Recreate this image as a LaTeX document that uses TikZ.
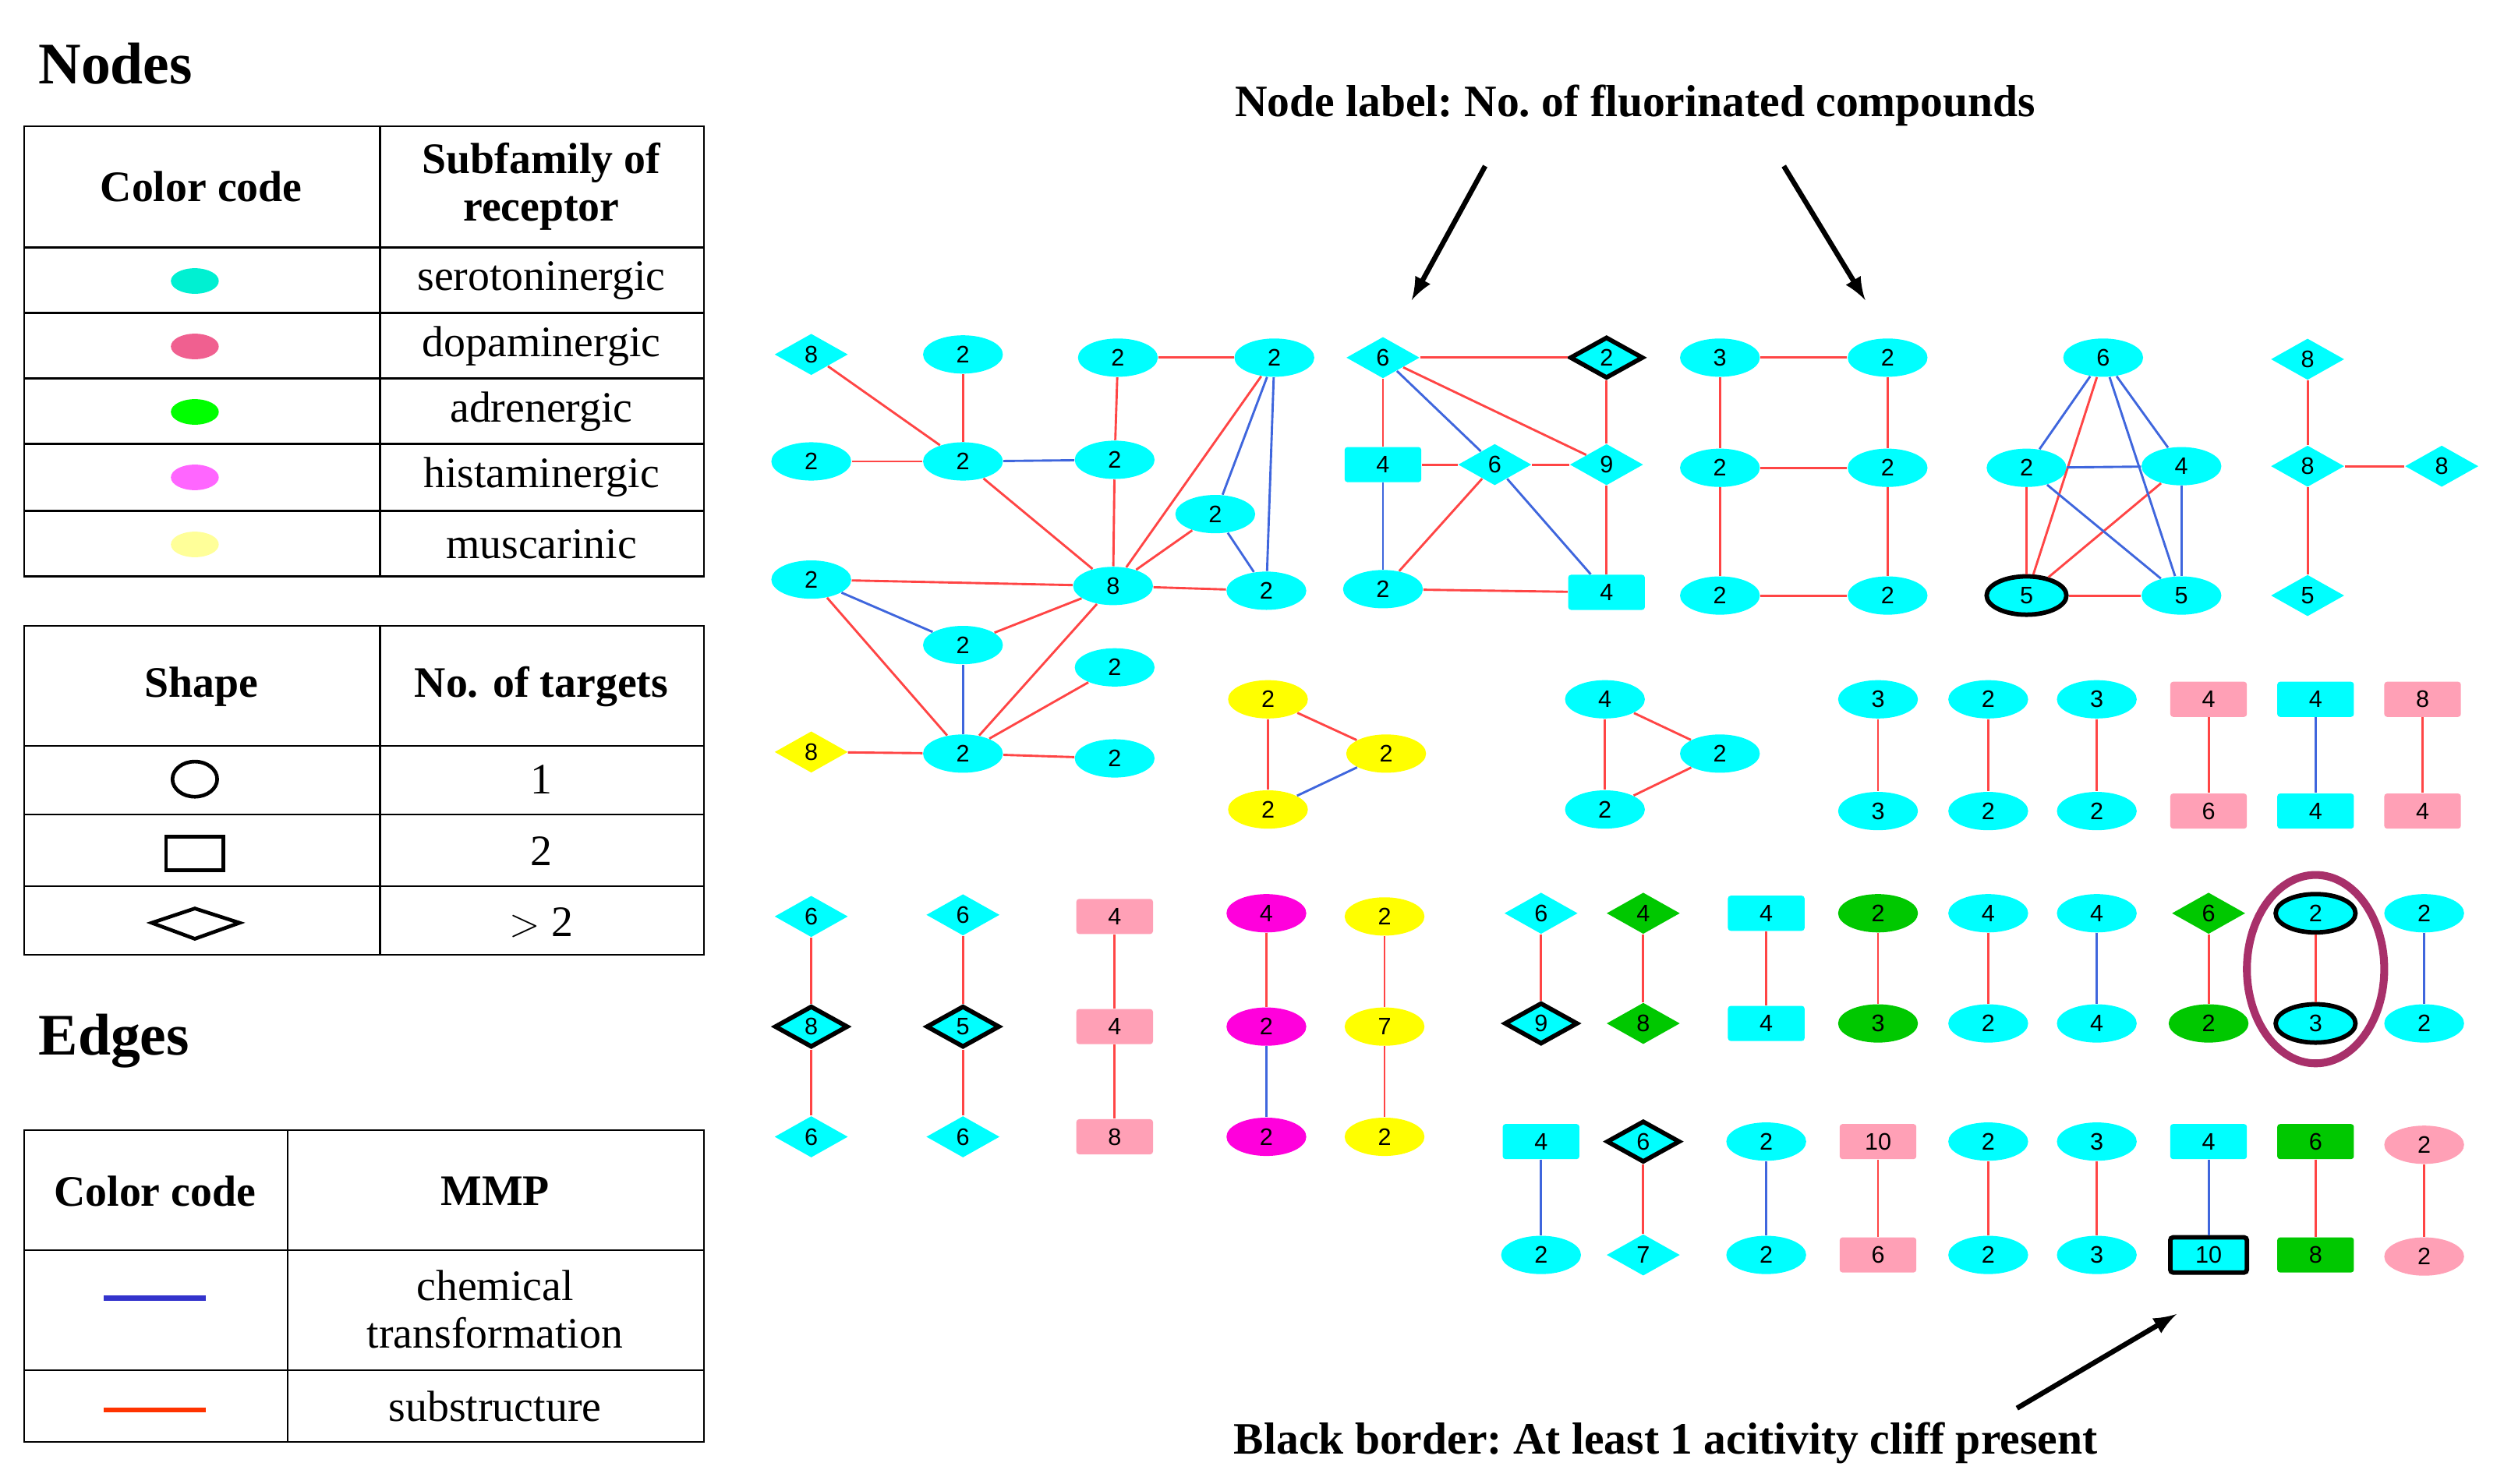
\documentclass[tikz,border=0pt]{standalone}
\usepackage{fontspec}
\setmainfont{Liberation Serif}
\newfontfamily\numfont{Liberation Sans}
\usetikzlibrary{arrows,shapes.geometric}

\definecolor{cyn}{HTML}{00FFFF}
\definecolor{pnk}{HTML}{FFA0B6}
\definecolor{grn}{HTML}{00C800}
\definecolor{mag}{HTML}{FF00DC}
\definecolor{yel}{HTML}{FFFF00}
\definecolor{redE}{HTML}{FF4545}
\definecolor{bluE}{HTML}{3F66DD}
\definecolor{ring}{HTML}{A8306A}

\tikzset{
  nd/.style={inner sep=0pt,font=\numfont\fontsize{8.5}{8.5}\selectfont},
  el/.style={nd,ellipse,minimum width=1.0cm,minimum height=0.48cm},
  bx/.style={nd,rectangle,rounded corners=1pt,minimum width=0.96cm,minimum height=0.44cm},
  di/.style={nd,diamond,minimum width=0.92cm,minimum height=0.52cm,aspect=1.8},
  cy/.style={fill=cyn},
  pk/.style={fill=pnk},
  gr/.style={fill=grn},
  mg/.style={fill=mag},
  yl/.style={fill=yel},
  cliff/.style={draw=black,line width=1.6pt},
  re/.style={draw=redE,line width=0.8pt},
  bl/.style={draw=bluE,line width=0.8pt},
  tb/.style={font=\fontsize{15.5}{17}\selectfont},
  tbh/.style={font=\bfseries\fontsize{15.5}{17}\selectfont,align=center},
  hd/.style={font=\bfseries\fontsize{21}{23}\selectfont,anchor=west},
  note/.style={font=\bfseries\frenchspacing\fontsize{16}{18}\selectfont}
}

\begin{document}
\begin{tikzpicture}[x=0.02cm,y=-0.02cm,>=latex]
\useasboundingbox (0,0) rectangle (1568,929);

% Legende Knoten
\node[hd] (hnodes) at (18,40) {Nodes};
\draw[line width=0.6pt] (15,79) rectangle (441,361);
\draw[line width=0.6pt] (238,79)--(238,361);
\foreach \y in {155,196,237,278,320} \draw[line width=0.6pt] (15,\y)--(441,\y);
\node[tbh] (h1) at (126,117) {Color code};
\node[tbh] (h2) at (339,117) {Subfamily of\\receptor};
\fill[fill={rgb,255:red,0;green,240;blue,210}] (122,176) ellipse (15 and 8);
\fill[fill={rgb,255:red,240;green,96;blue,144}] (122,217) ellipse (15 and 8);
\fill[fill={rgb,255:red,0;green,255;blue,0}] (122,258) ellipse (15 and 8);
\fill[fill={rgb,255:red,255;green,102;blue,255}] (122,299) ellipse (15 and 8);
\fill[fill={rgb,255:red,255;green,255;blue,153}] (122,341) ellipse (15 and 8);
\node[tb] (s1) at (339,176) {serotoninergic};
\node[tb] (s2) at (339,217) {dopaminergic};
\node[tb] (s3) at (339,258) {adrenergic};
\node[tb] (s4) at (339,299) {histaminergic};
\node[tb] (s5) at (339,341) {muscarinic};

\draw[line width=0.6pt] (15,392) rectangle (441,598);
\draw[line width=0.6pt] (238,392)--(238,598);
\foreach \y in {467,510,555} \draw[line width=0.6pt] (15,\y)--(441,\y);
\node[tbh] (h3) at (126,430) {Shape};
\node[tbh] (h4) at (339,430) {No. of targets};
\draw[line width=1.3pt] (122,488) ellipse (14 and 11);
\draw[line width=1.3pt] (104,524) rectangle (140,545);
\draw[line width=1.3pt] (95,578)--(122,569)--(150,578)--(122,588)--cycle;
\node[tb] (t1) at (339,488) {1};
\node[tb] (t2) at (339,533) {2};
\node[tb] (t3) at (339,578) {$>$ 2};

% Legende Kanten
\node[hd] (hedges) at (18,652) {Edges};
\draw[line width=0.6pt] (15,708) rectangle (441,903);
\draw[line width=0.6pt] (180,708)--(180,903);
\foreach \y in {783,858} \draw[line width=0.6pt] (15,\y)--(441,\y);
\node[tbh] (h5) at (97,746) {Color code};
\node[tbh] (h6) at (310,746) {MMP};
\draw[line width=2pt,draw={rgb,255:red,51;green,51;blue,204}] (65,813)--(129,813);
\draw[line width=1.5pt,draw={rgb,255:red,255;green,51;blue,0}] (65,883)--(129,883);
\node[tb,align=center] (m1) at (310,820) {chemical\\transformation};
\node[tb] (m2) at (310,881) {substructure};

% Cluster A
\node[di,cy] (a1) at (508,222) {8};
\node[el,cy] (a2) at (603,222) {2};
\node[el,cy] (a3) at (700,224) {2};
\node[el,cy] (a4) at (798,224) {2};
\node[el,cy] (a5) at (508,289) {2};
\node[el,cy] (a6) at (603,289) {2};
\node[el,cy] (a7) at (698,288) {2};
\node[el,cy] (a8) at (761,322) {2};
\node[el,cy] (a9) at (508,363) {2};
\node[el,cy] (a10) at (697,367) {8};
\node[el,cy] (a11) at (793,370) {2};
\node[el,cy] (a12) at (603,404) {2};
\node[el,cy] (a13) at (698,418) {2};
\node[di,yl] (a14) at (508,471) {8};
\node[el,cy] (a15) at (603,472) {2};
\node[el,cy] (a16) at (698,475) {2};
\foreach \u/\v in {a1/a6,a2/a6,a3/a4,a3/a7,a5/a6,a6/a10,a7/a10,a4/a10,a8/a10,a9/a10,a10/a11,a9/a15,a12/a10,a10/a15,a13/a15,a14/a15,a15/a16}
  \draw[re] (\u)--(\v);
\foreach \u/\v in {a6/a7,a4/a8,a4/a11,a8/a11,a9/a12,a12/a15}
  \draw[bl] (\u)--(\v);

% Cluster B
\node[di,cy] (b1) at (866,224) {6};
\node[di,cy,cliff] (b2) at (1006,224) {2};
\node[bx,cy] (b3) at (866,291) {4};
\node[di,cy] (b4) at (936,291) {6};
\node[di,cy] (b5) at (1006,291) {9};
\node[el,cy] (b6) at (866,369) {2};
\node[bx,cy] (b7) at (1006,371) {4};
\foreach \u/\v in {b1/b2,b1/b3,b1/b5,b2/b5,b3/b4,b4/b5,b4/b6,b5/b7,b6/b7}
  \draw[re] (\u)--(\v);
\foreach \u/\v in {b1/b4,b3/b6,b4/b7}
  \draw[bl] (\u)--(\v);

% Cluster C
\node[el,cy] (c1) at (1077,224) {3};
\node[el,cy] (c2) at (1182,224) {2};
\node[el,cy] (c3) at (1077,293) {2};
\node[el,cy] (c4) at (1182,293) {2};
\node[el,cy] (c5) at (1077,373) {2};
\node[el,cy] (c6) at (1182,373) {2};
\foreach \u/\v in {c1/c2,c1/c3,c2/c4,c3/c4,c3/c5,c4/c6,c5/c6}
  \draw[re] (\u)--(\v);

% Cluster D
\node[el,cy] (d1) at (1317,224) {6};
\node[el,cy] (d2) at (1269,293) {2};
\node[el,cy] (d3) at (1366,292) {4};
\node[el,cy,cliff] (d4) at (1269,373) {5};
\node[el,cy] (d5) at (1366,373) {5};
\foreach \u/\v in {d1/d4,d2/d4,d3/d4,d4/d5}
  \draw[re] (\u)--(\v);
\foreach \u/\v in {d1/d2,d1/d5,d1/d3,d2/d3,d2/d5,d3/d5}
  \draw[bl] (\u)--(\v);

% Cluster E
\node[di,cy] (e1) at (1445,225) {8};
\node[di,cy] (e2) at (1445,292) {8};
\node[di,cy] (e3) at (1529,292) {8};
\node[di,cy] (e4) at (1445,373) {5};
\foreach \v in {e1,e3,e4} \draw[re] (e2)--(\v);

% Dreiecke
\node[el,yl] (f1) at (794,438) {2};
\node[el,yl] (f2) at (868,472) {2};
\node[el,yl] (f3) at (794,507) {2};
\draw[re] (f1)--(f2); \draw[re] (f1)--(f3); \draw[bl] (f2)--(f3);
\node[el,cy] (g1) at (1005,438) {4};
\node[el,cy] (g2) at (1077,472) {2};
\node[el,cy] (g3) at (1005,507) {2};
\draw[re] (g1)--(g2); \draw[re] (g1)--(g3); \draw[re] (g2)--(g3);

% Paare Reihe 1
\node[el,cy] (p1) at (1176,438) {3};  \node[el,cy] (q1) at (1176,508) {3};
\node[el,cy] (p2) at (1245,438) {2};  \node[el,cy] (q2) at (1245,508) {2};
\node[el,cy] (p3) at (1313,438) {3};  \node[el,cy] (q3) at (1313,508) {2};
\node[bx,pk] (p4) at (1383,438) {4};  \node[bx,pk] (q4) at (1383,508) {6};
\node[bx,cy] (p5) at (1450,438) {4};  \node[bx,cy] (q5) at (1450,508) {4};
\node[bx,pk] (p6) at (1517,438) {8};  \node[bx,pk] (q6) at (1517,508) {4};
\foreach \i in {1,2,3,4,6} \draw[re] (p\i)--(q\i);
\draw[bl] (p5)--(q5);

% Ketten
\node[di,cy] (k1) at (508,574) {6};
\node[di,cy,cliff] (k2) at (508,643) {8};
\node[di,cy] (k3) at (508,712) {6};
\node[di,cy] (k4) at (603,573) {6};
\node[di,cy,cliff] (k5) at (603,643) {5};
\node[di,cy] (k6) at (603,712) {6};
\node[bx,pk] (k7) at (698,574) {4};
\node[bx,pk] (k8) at (698,643) {4};
\node[bx,pk] (k9) at (698,712) {8};
\node[el,mg] (k10) at (793,572) {4};
\node[el,mg] (k11) at (793,643) {2};
\node[el,mg] (k12) at (793,712) {2};
\node[el,yl] (k13) at (867,574) {2};
\node[el,yl] (k14) at (867,643) {7};
\node[el,yl] (k15) at (867,712) {2};
\foreach \u/\v in {k1/k2,k2/k3,k4/k5,k5/k6,k7/k8,k8/k9,k10/k11,k13/k14,k14/k15}
  \draw[re] (\u)--(\v);
\draw[bl] (k11)--(k12);

% Paare Reihe 2
\node[di,cy] (r1) at (965,572) {6};  \node[di,cy,cliff] (s1) at (965,641) {9};
\node[di,gr] (r2) at (1029,572) {4}; \node[di,gr] (s2) at (1029,641) {8};
\node[bx,cy] (r3) at (1106,572) {4}; \node[bx,cy] (s3) at (1106,641) {4};
\node[el,gr] (r4) at (1176,572) {2}; \node[el,gr] (s4) at (1176,641) {3};
\node[el,cy] (r5) at (1245,572) {4}; \node[el,cy] (s5) at (1245,641) {2};
\node[el,cy] (r6) at (1313,572) {4}; \node[el,cy] (s6) at (1313,641) {4};
\node[di,gr] (r7) at (1383,572) {6}; \node[el,gr] (s7) at (1383,641) {2};
\node[el,cy,cliff] (r8) at (1450,572) {2}; \node[el,cy,cliff] (s8) at (1450,641) {3};
\node[el,cy] (r9) at (1518,572) {2}; \node[el,cy] (s9) at (1518,641) {2};
\foreach \i in {1,2,3,4,5,7,8} \draw[re] (r\i)--(s\i);
\foreach \i in {6,9} \draw[bl] (r\i)--(s\i);
\draw[ring,line width=2.8pt] (1450,607) ellipse (43 and 59);

% Paare Reihe 3
\node[bx,cy] (u1) at (965,715) {4};  \node[el,cy] (v1) at (965,786) {2};
\node[di,cy,cliff] (u2) at (1029,715) {6}; \node[di,cy] (v2) at (1029,786) {7};
\node[el,cy] (u3) at (1106,715) {2}; \node[el,cy] (v3) at (1106,786) {2};
\node[bx,pk] (u4) at (1176,715) {10}; \node[bx,pk] (v4) at (1176,786) {6};
\node[el,cy] (u5) at (1245,715) {2}; \node[el,cy] (v5) at (1245,786) {2};
\node[el,cy] (u6) at (1313,715) {3}; \node[el,cy] (v6) at (1313,786) {3};
\node[bx,cy] (u7) at (1383,715) {4}; \node[bx,cy,cliff] (v7) at (1383,786) {10};
\node[bx,gr] (u8) at (1450,715) {6}; \node[bx,gr] (v8) at (1450,786) {8};
\node[el,pk] (u9) at (1518,717) {2}; \node[el,pk] (v9) at (1518,787) {2};
\foreach \i in {2,4,5,6,8,9} \draw[re] (u\i)--(v\i);
\foreach \i in {1,3,7} \draw[bl] (u\i)--(v\i);

% Beschriftungen
\node[note] (lbl) at (1024,66) {Node label: No. of fluorinated compounds};
\coordinate (lA) at (930,104);
\coordinate (lB) at (1117,104);
\draw[->,line width=1.8pt] (lA)--(884,188);
\draw[->,line width=1.8pt] (lB)--(1168,188);
\node[note] (brd) at (1043,904) {Black border: At least 1 acitivity cliff present};
\coordinate (bA) at (1263,882);
\draw[->,line width=1.8pt] (bA)--(1363,823);

\end{tikzpicture}
\end{document}
